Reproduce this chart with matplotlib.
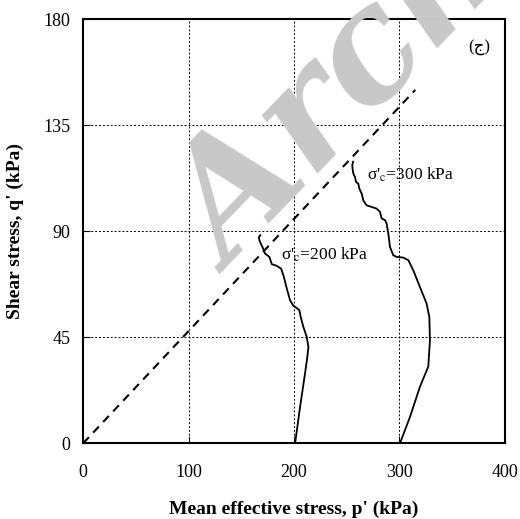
import matplotlib
matplotlib.use("Agg")
import matplotlib.pyplot as plt

plt.rcParams['font.family'] = ['Liberation Serif', 'DejaVu Sans']
plt.rcParams['mathtext.fontset'] = 'stix'

# Data
p_200 = [201, 205.7, 210.4, 212.6, 213.6, 212, 208.8, 206.3, 205, 202.5, 199.4, 196.2,
         193.1, 189.9, 187.7, 183.6, 178.9, 176.6, 172.5, 170.3, 168.4, 167.1, 166.5, 168.0]
q_200 = [0, 15.4, 29.6, 36.7, 40.9, 45.2, 49.4, 53.6, 56.5, 57.4, 58.3, 60.7,
         65.7, 71.3, 74.1, 75.3, 76, 79.1, 80.5, 83, 84.8, 86.2, 87.5, 88.3]

p_300 = [300.5, 310, 319.4, 327.3, 328.9, 328.3, 325.7, 319.4, 313.1, 308.4, 303.6, 297.3,
         294.1, 291, 289.4, 287.8, 286.3, 283.1, 281.5, 278.3, 273.6, 268.8, 265.7, 264.1,
         261.9, 260.9, 258.8, 257.8, 256.2, 255.6, 255.2, 256.0]
q_300 = [0, 11.2, 24, 32.5, 43.7, 53.6, 59.3, 66.3, 73.4, 77.7, 78.8, 79.1,
         79.8, 83.3, 89, 93.2, 94.7, 95.4, 98.2, 99.6, 100.3, 101, 103.1, 106,
         108.1, 110.2, 110.9, 113, 114.5, 116.2, 118.0, 119.5]

cs_p = [0, 315]
cs_q = [0, 150]

x_ticks = [0, 100, 200, 300, 400]
y_ticks = [0, 45, 90, 135, 180]

fig = plt.figure(figsize=(5.2, 5.19), dpi=100)
ax = fig.add_axes([0.160, 0.146, 0.811, 0.817])

ax.plot(p_200, q_200, color='black', linewidth=1.3, zorder=4)
ax.plot(p_300, q_300, color='black', linewidth=1.3, zorder=4)
ax.plot(cs_p, cs_q, color='black', linewidth=1.5, linestyle=(0, (4, 3)), zorder=4)

ax.text(188, 80, r"σ'$_\mathrm{c}$=200 kPa", fontsize=12.5, va='center', ha='left', zorder=5)
ax.text(269, 114, r"σ'$_\mathrm{c}$=300 kPa", fontsize=12.5, va='center', ha='left', zorder=5)
ax.text(376, 168, "(ج)", fontsize=12, ha='center', va='center', zorder=5)

ax.set_xlim(0, 400)
ax.set_ylim(0, 180)
ax.set_xticks(x_ticks)
ax.set_yticks(y_ticks)
ax.tick_params(direction='in', length=5, labelsize=13)
ax.tick_params(axis='x', pad=15)
ax.tick_params(axis='y', pad=9)
ax.grid(True, color='black', linestyle=(0, (2, 2)), linewidth=0.7)
for s in ax.spines.values():
    s.set_linewidth(1.5)

ax.set_xlabel("Mean effective stress, p' (kPa)", fontsize=14, fontweight='bold', labelpad=14)
ax.set_ylabel("Shear stress, q' (kPa)", fontsize=14, fontweight='bold', labelpad=14)

# watermark
fig.text(0.445, 0.47, "Archive", family='DejaVu Serif', fontsize=112, fontweight='bold',
         fontstyle='italic', color='#c8c8c8', rotation=46, rotation_mode='anchor',
         ha='left', va='baseline', zorder=3)

fig.savefig("out.png", dpi=100)
